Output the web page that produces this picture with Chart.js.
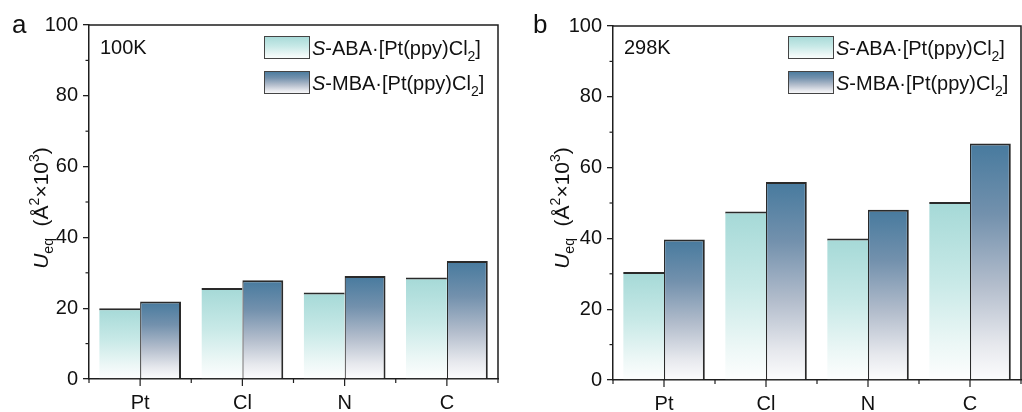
<!DOCTYPE html>
<html><head><meta charset="utf-8">
<script src="https://cdn.jsdelivr.net/npm/chart.js@4.4.1/dist/chart.umd.min.js"></script>
<style>
html,body{margin:0;padding:0;background:#fff;overflow:hidden}
#wrap{position:relative;width:1022px;height:412px;background:#fff}
canvas{position:absolute;top:0}
</style></head><body>
<div id="wrap">
<canvas id="ca" width="511" height="412" style="left:0px;width:511px;height:412px"></canvas>
<canvas id="cb" width="511" height="412" style="left:511px;width:511px;height:412px"></canvas>
</div>
<script>
// ---- data ----
const categories = ['Pt', 'Cl', 'N', 'C'];
const aba100K = [20.0, 25.7, 24.4, 28.7];
const mba100K = [21.9, 27.9, 29.1, 33.3];
const aba298K = [30.5, 47.6, 40.0, 50.3];
const mba298K = [39.7, 55.9, 48.1, 66.8];
const yTickValues = [0, 20, 40, 60, 80, 100];
const yMinorValues = [10, 30, 50, 70, 90];
const panelLabels = ['a', 'b'];
const tempLabels = ['100K', '298K'];
const seriesLabels = [
  [{t: 'S', it: true}, {t: '-ABA·[Pt(ppy)Cl'}, {t: '2', sub: true}, {t: ']'}],
  [{t: 'S', it: true}, {t: '-MBA·[Pt(ppy)Cl'}, {t: '2', sub: true}, {t: ']'}]
];

const FONT = '"Liberation Sans", Arial, Helvetica, sans-serif';
const INK = '#1e1e1e';
const abaStops = [[0, '#a5d9d7'], [0.45, '#c8e9e7'], [0.8, '#ecf7f6'], [1, '#fdfefe']];
const mbaStops = [[0, '#477a9e'], [0.3, '#7391ad'], [0.6, '#b3bdcc'], [0.85, '#e6e8ed'], [1, '#fcfcfd']];

function barGrad(stops) {
  return function (ctx) {
    const chart = ctx.chart;
    if (!chart.chartArea || ctx.type !== 'data') return stops[0][1];
    const ys = chart.scales.y;
    const top = ys.getPixelForValue(ctx.raw);
    const bot = ys.getPixelForValue(0);
    const g = chart.ctx.createLinearGradient(0, top, 0, bot + 0.01);
    stops.forEach(s => g.addColorStop(s[0], s[1]));
    return g;
  };
}

function drawRich(ctx, parts, x, y, size) {
  let cx = x;
  parts.forEach(p => {
    const fs = p.sub || p.sup ? Math.round(size * 0.68) : size;
    ctx.font = (p.it ? 'italic ' : '') + fs + 'px ' + FONT;
    const dy = p.sub ? size * 0.28 : (p.sup ? -size * 0.42 : 0);
    ctx.fillText(p.t, cx, y + dy);
    cx += ctx.measureText(p.t).width;
  });
  return cx - x;
}
function richWidth(ctx, parts, size) {
  let w = 0;
  parts.forEach(p => {
    const fs = p.sub || p.sup ? Math.round(size * 0.68) : size;
    ctx.font = (p.it ? 'italic ' : '') + fs + 'px ' + FONT;
    w += ctx.measureText(p.t).width;
  });
  return w;
}

const decorPlugin = {
  id: 'decor',
  afterDraw(chart, args, opts) {
    const ctx = chart.ctx;
    const a = chart.chartArea;
    const xs = chart.scales.x, ys = chart.scales.y;
    ctx.save();
    ctx.strokeStyle = INK;
    ctx.lineWidth = 1.5;
    // top & right frame
    ctx.beginPath();
    ctx.moveTo(a.left, a.top); ctx.lineTo(a.right, a.top); ctx.lineTo(a.right, a.bottom);
    ctx.stroke();
    // minor y ticks
    ctx.lineWidth = 1.2;
    yMinorValues.forEach(v => {
      const y = ys.getPixelForValue(v);
      ctx.beginPath(); ctx.moveTo(a.left - 3.5, y); ctx.lineTo(a.left, y); ctx.stroke();
    });
    // x ticks: center (major) and boundaries (minor)
    const n = categories.length;
    categories.forEach((c, i) => {
      const x = xs.getPixelForValue(i);
      ctx.beginPath(); ctx.moveTo(x, a.bottom); ctx.lineTo(x, a.bottom + 7); ctx.stroke();
    });
    for (let i = 0; i <= n; i++) {
      const x = a.left + i * (a.right - a.left) / n;
      ctx.beginPath(); ctx.moveTo(x, a.bottom); ctx.lineTo(x, a.bottom + 4); ctx.stroke();
    }
    // panel label
    ctx.fillStyle = '#111';
    ctx.textBaseline = 'alphabetic';
    ctx.textAlign = 'left';
    ctx.font = '26px ' + FONT;
    ctx.fillText(opts.panel, opts.panelX, 33);
    // temperature label
    ctx.font = '20px ' + FONT;
    ctx.fillText(opts.temp, a.left + 11, 54);
    // legend
    const rows = [[36, abaStops], [71, mbaStops]];
    rows.forEach((r, i) => {
      const bx = a.left + 175, by = r[0], bw = 46, bh = 23;
      const g = ctx.createLinearGradient(0, by, 0, by + bh);
      r[1].forEach(s => g.addColorStop(s[0], s[1]));
      ctx.fillStyle = g;
      ctx.fillRect(bx, by, bw, bh);
      ctx.strokeStyle = '#444';
      ctx.lineWidth = 1;
      ctx.strokeRect(bx + 0.5, by + 0.5, bw - 1, bh - 1);
      ctx.fillStyle = '#111';
      drawRich(ctx, seriesLabels[i], a.left + 223, by + 19, 20);
    });
    // y-axis title (rotated)
    const title = [{t: 'U', it: true}, {t: 'eq', sub: true}, {t: '  (Å'}, {t: '2', sup: true}, {t: '×10'}, {t: '3', sup: true}, {t: ')'}];
    ctx.translate(opts.titleX, opts.titleY);
    ctx.rotate(-Math.PI / 2);
    const tw = richWidth(ctx, title, 21);
    ctx.fillStyle = '#111';
    drawRich(ctx, title, -tw / 2, 7.5, 21);
    ctx.restore();
  }
};

function makeChart(id, aba, mba, g) {
  return new Chart(document.getElementById(id), {
    type: 'bar',
    data: {
      labels: categories,
      datasets: [
        { label: 'S-ABA·[Pt(ppy)Cl2]', data: aba, backgroundColor: barGrad(abaStops),
          borderColor: '#2a2a2a', borderWidth: {top: 2, right: 0, left: 0, bottom: 0}, borderSkipped: 'start',
          categoryPercentage: 0.8, barPercentage: 1.0 },
        { label: 'S-MBA·[Pt(ppy)Cl2]', data: mba, backgroundColor: barGrad(mbaStops),
          borderColor: '#2a2a2a', borderWidth: {top: 2, right: 2, left: 1.2, bottom: 0}, borderSkipped: 'start',
          categoryPercentage: 0.8, barPercentage: 1.0 }
      ]
    },
    options: {
      responsive: false,
      animation: false,
      events: [],
      layout: { padding: { left: 0, top: g.top, right: g.right, bottom: 0 } },
      plugins: {
        legend: { display: false },
        tooltip: { enabled: false },
        decor: { panel: g.panel, temp: g.temp, panelX: g.panelX, titleX: g.titleX, titleY: g.titleY }
      },
      scales: {
        x: {
          offset: true,
          grid: { display: false },
          border: { display: true, color: INK, width: 1.5 },
          ticks: { color: '#111', font: { family: FONT, size: 20 }, padding: 4, maxRotation: 0 },
          afterFit(s) { s.height = g.xh; }
        },
        y: {
          min: 0, max: 100,
          afterBuildTicks(s) { s.ticks = yTickValues.map(v => ({value: v})); },
          grid: { display: true, drawOnChartArea: false, drawTicks: true, tickLength: 6, color: INK, lineWidth: 1.3 },
          border: { display: true, color: INK, width: 1.5 },
          ticks: { color: '#111', font: { family: FONT, size: 20 }, padding: 5 },
          afterFit(s) { s.width = g.yw; }
        }
      }
    },
    plugins: [decorPlugin]
  });
}

makeChart('ca', aba100K, mba100K, {top: 25, right: 13, xh: 33, yw: 89, panel: panelLabels[0], temp: tempLabels[0], panelX: 12, titleX: 40, titleY: 208});
makeChart('cb', aba298K, mba298K, {top: 26, right: 1, xh: 32, yw: 102, panel: panelLabels[1], temp: tempLabels[1], panelX: 22, titleX: 50, titleY: 208});
</script>
</body></html>
